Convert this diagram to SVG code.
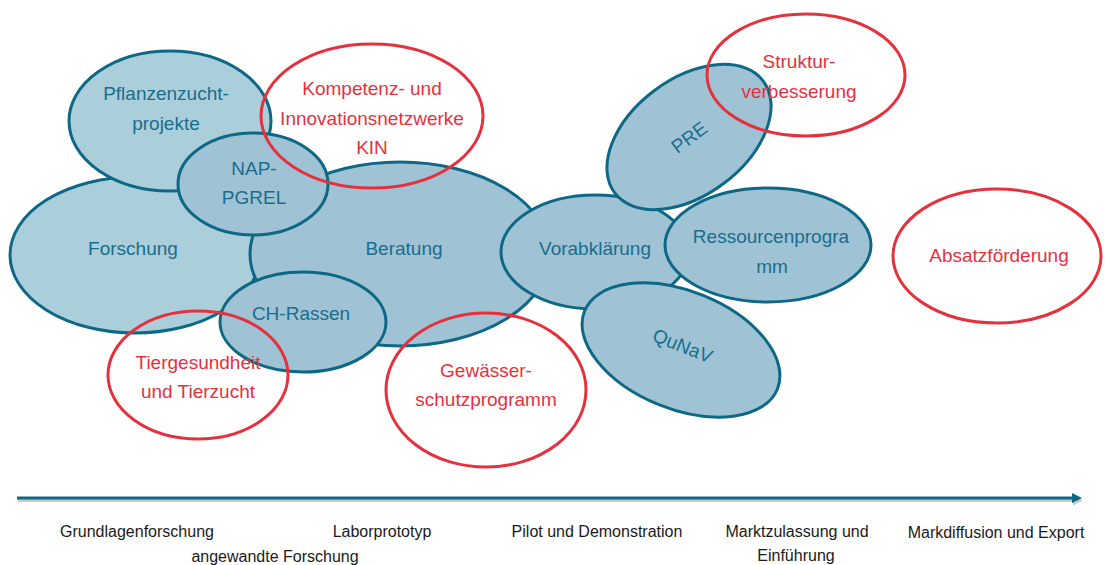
<svg xmlns="http://www.w3.org/2000/svg" width="1105" height="565" viewBox="0 0 1105 565">
<defs>
<style>
.light{fill:#abcedb;stroke:#0d6886;stroke-width:3}
.dark{fill:#9fc3d5;stroke:#0d6886;stroke-width:3}
.red{fill:none;stroke:#e5313d;stroke-width:3}
.tb{font-family:"Liberation Sans",Arial,sans-serif;font-size:19px;fill:#1a6d8b;text-anchor:middle}
.tr{font-family:"Liberation Sans",Arial,sans-serif;font-size:19px;fill:#e5313d;text-anchor:middle}
.ax{font-family:"Liberation Sans",Arial,sans-serif;font-size:16px;fill:#1a1a1a;text-anchor:middle}
</style>
<marker id="arr" markerWidth="10" markerHeight="10" refX="1" refY="5" orient="auto" markerUnits="userSpaceOnUse" viewBox="0 0 10 10">
<path d="M0,0 L10,5 L0,10 Z" fill="#0d6886"/>
</marker>
<marker id="arrs" markerWidth="10" markerHeight="10" refX="1" refY="5" orient="auto" markerUnits="userSpaceOnUse" viewBox="0 0 10 10">
<path d="M0,0 L10,5 L0,10 Z" fill="#c9c9c9"/>
</marker>
</defs>
<rect width="1105" height="565" fill="#ffffff"/>
<g id="forschung"><ellipse class="light" cx="135" cy="255" rx="125" ry="78"/><text class="tb" x="133" y="255">Forschung</text></g>
<g id="pflanzenzucht"><ellipse class="light" cx="170" cy="121" rx="101" ry="70"/><text class="tb" x="166" y="100">Pflanzenzucht-</text><text class="tb" x="166" y="130">projekte</text></g>
<g id="beratung"><ellipse class="dark" cx="400" cy="254" rx="150" ry="92"/><text class="tb" x="404" y="255">Beratung</text></g>
<g id="nap-pgrel"><ellipse class="dark" cx="253" cy="184" rx="75" ry="51"/><text class="tb" x="254" y="175">NAP-</text><text class="tb" x="254" y="204">PGREL</text></g>
<g id="ch-rassen"><ellipse class="dark" cx="303" cy="322" rx="83" ry="50"/><text class="tb" x="301" y="320">CH-Rassen</text></g>
<g id="vorabklaerung"><ellipse class="dark" cx="595" cy="252" rx="94" ry="57"/><text class="tb" x="595" y="255">Vorabklärung</text></g>
<g id="pre" transform="translate(689,137) rotate(-37)"><ellipse class="dark" cx="0" cy="0" rx="93" ry="58"/><text class="tb" x="0" y="7">PRE</text></g>
<g id="ressourcenprogramm"><ellipse class="dark" cx="768" cy="245" rx="103" ry="57"/><text class="tb" x="771" y="243">Ressourcenprogra</text><text class="tb" x="772" y="273">mm</text></g>
<g id="qunav" transform="translate(681,350) rotate(22)"><ellipse class="dark" cx="0" cy="0" rx="104" ry="59"/><text class="tb" x="0" y="2">QuNaV</text></g>
<g id="kin"><ellipse class="red" cx="372" cy="116" rx="111" ry="72"/><text class="tr" x="372" y="95">Kompetenz- und</text><text class="tr" x="372" y="125">Innovationsnetzwerke</text><text class="tr" x="372" y="154">KIN</text></g>
<g id="strukturverbesserung"><ellipse class="red" cx="806" cy="75" rx="99" ry="61"/><text class="tr" x="799" y="68">Struktur-</text><text class="tr" x="799" y="98">verbesserung</text></g>
<g id="absatzfoerderung"><ellipse class="red" cx="997" cy="256" rx="104" ry="67"/><text class="tr" x="999" y="262">Absatzförderung</text></g>
<g id="tiergesundheit"><ellipse class="red" cx="198" cy="375" rx="90" ry="64"/><text class="tr" x="198" y="369">Tiergesundheit</text><text class="tr" x="198" y="398">und Tierzucht</text></g>
<g id="gewaesserschutz"><ellipse class="red" cx="486" cy="390" rx="100" ry="77"/><text class="tr" x="486" y="377">Gewässer-</text><text class="tr" x="486" y="406">schutzprogramm</text></g>
<g id="connectors">
<line x1="18" y1="500.5" x2="1074" y2="500.5" stroke="#c9c9c9" stroke-width="3" marker-end="url(#arrs)"/>
<line x1="17" y1="498" x2="1073" y2="498" stroke="#0d6886" stroke-width="3" marker-end="url(#arr)"/>
</g>
<g id="axis-labels">
<text class="ax" x="137" y="537">Grundlagenforschung</text>
<text class="ax" x="275" y="562">angewandte Forschung</text>
<text class="ax" x="382" y="537">Laborprototyp</text>
<text class="ax" x="597" y="537">Pilot und Demonstration</text>
<text class="ax" x="797" y="537">Marktzulassung und</text>
<text class="ax" x="796" y="561">Einführung</text>
<text class="ax" x="996" y="538">Markdiffusion und Export</text>
</g>
</svg>
